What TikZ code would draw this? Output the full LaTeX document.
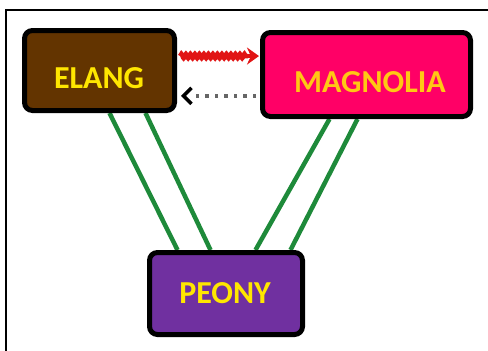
\documentclass[tikz,border=0pt]{standalone}
\usepackage{fontspec}
\setmainfont{Carlito}
\usetikzlibrary{calc,backgrounds,decorations.pathmorphing,arrows.meta}
\definecolor{brownbox}{RGB}{99,52,0}
\definecolor{pinkbox}{RGB}{255,0,102}
\definecolor{purplebox}{RGB}{112,48,160}
\definecolor{gline}{RGB}{30,138,58}
\definecolor{ytext}{RGB}{255,230,0}
\definecolor{otext}{RGB}{255,200,20}
\definecolor{redline}{RGB}{225,20,20}
\begin{document}
\begin{tikzpicture}[x=1pt,y=-1pt,
  box/.style={draw=black,line width=5pt,rounded corners=8pt,inner sep=0pt},
  lbl/.style={font=\fontsize{32}{38}\selectfont\bfseries,inner sep=0pt},
  link/.style={gline,line width=4.5pt}]
\useasboundingbox (0,0) rectangle (488,351);
\draw[line width=2pt] (490,10) -- (6,10) -- (6,353);
\node[box,fill=brownbox,minimum width=150pt,minimum height=80pt] (elang) at (99.5,70.5) {};
\node[box,fill=pinkbox,minimum width=208pt,minimum height=84pt] (magnolia) at (366.5,74.5) {};
\node[box,fill=purplebox,minimum width=153pt,minimum height=82pt] (peony) at (226,293.5) {};
\node[lbl,text=ytext] (telang) at (99,78) {ELANG};
\node[lbl,text=otext] (tmagnolia) at (370,82) {MAGNOLIA};
\node[lbl,text=ytext] (tpeony) at (225,293) {PEONY};
\begin{scope}[on background layer]
\draw[link] ($(elang.south west)+(87.5,0)$) -- ($(peony.north west)+(30.5,0)$);
\draw[link] ($(elang.south west)+(123.5,0)$) -- ($(peony.north west)+(63.5,0)$);
\draw[link] ($(magnolia.south west)+(69.5,0)$) -- ($(peony.north west)+(108.5,0)$);
\draw[link] ($(magnolia.south west)+(97.5,0)$) -- ($(peony.north west)+(143.5,0)$);
\end{scope}
\coordinate (rs) at ($(elang.north east)!0.33!(elang.south east)$);
\coordinate (rsa) at ($(rs)+(3,0)$);
\coordinate (rse) at ($(rs -| magnolia.west)+(-1,0)$);
\coordinate (rsm) at ($(rse)+(-11,0)$);
\draw[redline,line width=4.5pt,decorate,decoration={snake,amplitude=2.2pt,segment length=4.5pt}]
  (rsa) -- (rsm);
\draw[redline,line width=4pt,-{Stealth[length=12pt,width=17pt]}] ($(rsm)+(-1,0)$) -- (rse);
\coordinate (ds) at ($(magnolia.north west)!0.74!(magnolia.south west)$);
\coordinate (dse) at ($(ds -| elang.east)+(4,0)$);
\draw[gray!80!black,line width=3.5pt,dash pattern=on 3.5pt off 6pt]
  ($(ds)+(-4,0)$) -- ($(dse)+(12,0)$);
\draw[black,line width=3.5pt,-{Straight Barb[length=8pt,width=16pt,line width=3.5pt]}]
  ($(dse)+(4,0)$) -- (dse);
\end{tikzpicture}
\end{document}
